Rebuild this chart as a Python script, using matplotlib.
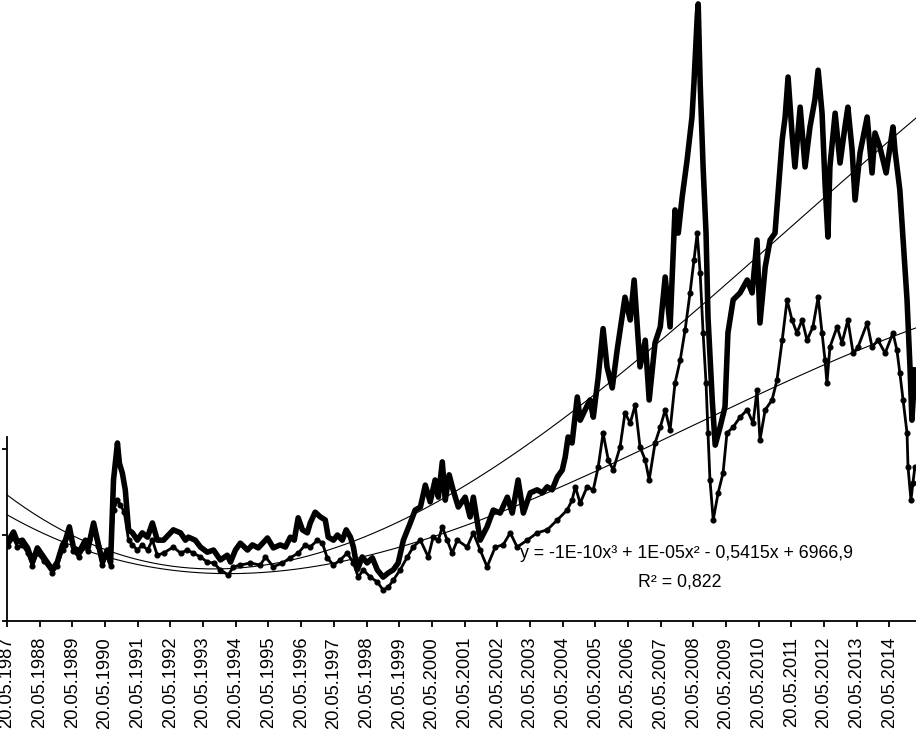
import numpy as np
import matplotlib
matplotlib.use("Agg")
import matplotlib.pyplot as plt

plt.rcParams["font.family"] = ["Liberation Sans", "DejaVu Sans"]

# Serie 1 (linha grossa): data em anos decimais, valor
anos_1 = [1987.40, 1987.58, 1987.70, 1987.85, 1988.01, 1988.16, 1988.31, 1988.50, 1988.77, 1988.92,
          1989.08, 1989.17, 1989.29, 1989.41, 1989.57, 1989.78, 1989.87, 1990.03, 1990.15, 1990.30,
          1990.45, 1990.55, 1990.64, 1990.76, 1990.82, 1990.91, 1991.00, 1991.10, 1991.22, 1991.37,
          1991.52, 1991.68, 1991.83, 1991.98, 1992.17, 1992.47, 1992.69, 1992.84, 1992.93, 1993.14,
          1993.30, 1993.51, 1993.70, 1993.91, 1994.12, 1994.22, 1994.37, 1994.52, 1994.74, 1994.89,
          1995.07, 1995.35, 1995.53, 1995.74, 1995.90, 1996.05, 1996.17, 1996.29, 1996.42, 1996.57,
          1996.66, 1996.81, 1996.97, 1997.12, 1997.21, 1997.37, 1997.49, 1997.64, 1997.76, 1997.89,
          1997.98, 1998.10, 1998.25, 1998.40, 1998.56, 1998.71, 1998.89, 1999.05, 1999.20, 1999.35,
          1999.51, 1999.72, 1999.87, 2000.03, 2000.18, 2000.33, 2000.48, 2000.58, 2000.70, 2000.79,
          2000.91, 2001.03, 2001.19, 2001.40, 2001.55, 2001.65, 2001.86, 2002.07, 2002.26, 2002.47,
          2002.69, 2002.84, 2003.02, 2003.18, 2003.39, 2003.60, 2003.76, 2003.91, 2004.06, 2004.22,
          2004.37, 2004.46, 2004.55, 2004.67, 2004.83, 2004.92, 2005.07, 2005.22, 2005.32, 2005.47,
          2005.62, 2005.74, 2005.90, 2006.05, 2006.29, 2006.45, 2006.57, 2006.75, 2006.91, 2007.03,
          2007.21, 2007.37, 2007.52, 2007.67, 2007.82, 2007.92, 2008.04, 2008.19, 2008.34, 2008.40,
          2008.50, 2008.53, 2008.59, 2008.68, 2008.77, 2008.83, 2008.96, 2009.05, 2009.20, 2009.35,
          2009.44, 2009.60, 2009.81, 2010.03, 2010.18, 2010.33, 2010.42, 2010.58, 2010.73, 2010.88,
          2011.10, 2011.19, 2011.28, 2011.40, 2011.49, 2011.65, 2011.80, 2011.95, 2012.10, 2012.20,
          2012.32, 2012.41, 2012.50, 2012.56, 2012.72, 2012.87, 2013.02, 2013.11, 2013.24, 2013.33,
          2013.48, 2013.70, 2013.85, 2013.94, 2014.09, 2014.28, 2014.49, 2014.55, 2014.70, 2014.80,
          2014.92, 2015.01, 2015.07, 2015.16]
valores_1 = [18.4, 20.7, 18.4, 18.8, 17.0, 13.7, 17.0, 14.9, 11.9, 13.7,
             17.7, 18.8, 21.9, 17.2, 15.8, 18.8, 17.2, 22.8, 18.8, 13.7,
             16.5, 13.5, 32.8, 41.4, 36.7, 34.4, 30.5, 21.2, 20.5, 18.8,
             20.5, 19.5, 22.8, 18.8, 18.8, 21.2, 20.5, 18.8, 19.5, 18.8,
             17.2, 16.0, 16.5, 14.2, 15.3, 13.7, 16.5, 18.1, 16.5, 17.7,
             17.0, 19.3, 17.0, 17.7, 17.2, 19.5, 18.8, 24.0, 21.2, 20.5,
             22.8, 25.3, 24.2, 23.5, 19.5, 18.8, 20.0, 18.8, 21.2, 19.5,
             17.2, 11.9, 14.9, 13.5, 14.7, 11.9, 10.2, 11.2, 11.9, 13.5,
             18.8, 22.8, 25.8, 26.5, 31.6, 27.7, 32.8, 28.8, 37.0, 28.1,
             34.0, 30.5, 26.5, 28.8, 24.2, 28.8, 18.8, 21.9, 25.8, 25.1,
             28.8, 25.1, 32.8, 25.1, 29.8, 30.5, 29.8, 31.2, 30.5, 33.5,
             35.1, 38.1, 42.8, 41.4, 52.1, 46.7, 49.1, 51.4, 47.4, 56.7,
             68.0, 59.1, 54.2, 63.0, 75.3, 70.0, 79.3, 59.1, 65.3, 51.4,
             64.7, 68.4, 80.0, 68.4, 95.6, 90.2, 98.6, 107.2, 117.2, 125.1,
             140.5, 143.5, 125.1, 105.6, 90.2, 70.7, 51.4, 40.9, 45.1, 49.8,
             67.0, 74.7, 76.3, 79.3, 76.3, 88.6, 69.3, 82.3, 88.6, 90.2,
             111.9, 117.2, 126.5, 113.5, 105.6, 119.5, 105.6, 114.9, 121.2, 128.1,
             118.1, 101.9, 89.3, 105.6, 118.1, 106.5, 114.9, 119.5, 109.5, 97.9,
             108.8, 117.2, 104.2, 113.5, 110.2, 104.2, 114.9, 109.5, 100.2, 88.6,
             74.7, 59.1, 46.7, 58.4]

# Serie 2 (pontos)
anos_2 = [1987.40, 1987.58, 1987.70, 1987.85, 1988.01, 1988.16, 1988.31, 1988.50, 1988.77, 1988.92,
          1989.08, 1989.17, 1989.29, 1989.41, 1989.57, 1989.78, 1989.87, 1990.03, 1990.15, 1990.30,
          1990.45, 1990.55, 1990.64, 1990.76, 1990.85, 1990.97, 1991.10, 1991.22, 1991.37, 1991.52,
          1991.68, 1991.83, 1991.98, 1992.17, 1992.47, 1992.69, 1992.90, 1993.08, 1993.30, 1993.51,
          1993.70, 1993.91, 1994.15, 1994.31, 1994.52, 1994.83, 1995.13, 1995.29, 1995.53, 1995.81,
          1996.05, 1996.29, 1996.51, 1996.66, 1996.88, 1997.03, 1997.18, 1997.37, 1997.58, 1997.79,
          1997.98, 1998.13, 1998.28, 1998.50, 1998.71, 1998.89, 1999.05, 1999.20, 1999.41, 1999.63,
          1999.81, 2000.03, 2000.27, 2000.42, 2000.58, 2000.70, 2000.85, 2001.00, 2001.16, 2001.46,
          2001.65, 2001.86, 2002.07, 2002.32, 2002.56, 2002.78, 2002.99, 2003.30, 2003.60, 2003.91,
          2004.22, 2004.52, 2004.67, 2004.77, 2004.92, 2005.13, 2005.32, 2005.47, 2005.62, 2005.78,
          2005.93, 2006.14, 2006.29, 2006.45, 2006.60, 2006.75, 2006.91, 2007.03, 2007.21, 2007.37,
          2007.52, 2007.67, 2007.82, 2007.98, 2008.13, 2008.28, 2008.40, 2008.50, 2008.59, 2008.68,
          2008.77, 2008.83, 2008.89, 2008.99, 2009.14, 2009.29, 2009.41, 2009.60, 2009.81, 2010.03,
          2010.21, 2010.33, 2010.42, 2010.58, 2010.79, 2010.94, 2011.10, 2011.25, 2011.40, 2011.55,
          2011.71, 2011.86, 2012.04, 2012.20, 2012.32, 2012.41, 2012.47, 2012.56, 2012.78, 2012.93,
          2013.11, 2013.27, 2013.42, 2013.70, 2013.85, 2014.03, 2014.25, 2014.49, 2014.61, 2014.70,
          2014.80, 2014.92, 2014.95, 2015.04, 2015.10, 2015.16]
valores_2 = [17.4, 19.3, 17.2, 17.7, 15.8, 12.8, 15.8, 14.0, 11.2, 12.8,
             16.5, 17.7, 20.5, 16.3, 14.9, 17.4, 16.3, 21.2, 17.4, 13.0,
             15.3, 12.8, 25.8, 28.1, 27.0, 25.3, 18.8, 17.7, 16.5, 17.7,
             16.5, 18.8, 15.3, 15.8, 17.2, 15.8, 16.5, 15.8, 14.9, 13.7,
             13.5, 11.9, 10.7, 12.6, 13.0, 13.5, 13.0, 14.9, 12.6, 13.5,
             14.7, 15.8, 17.7, 17.2, 18.8, 18.1, 14.7, 13.0, 14.2, 15.8,
             13.5, 10.2, 11.9, 10.2, 9.1, 7.2, 7.9, 9.5, 11.9, 14.9,
             17.2, 18.8, 14.9, 19.5, 18.8, 21.9, 18.8, 15.8, 18.8, 17.2,
             20.5, 16.5, 12.6, 17.2, 17.7, 20.5, 17.2, 18.8, 20.5, 21.2,
             23.5, 25.8, 28.1, 31.2, 27.4, 31.2, 30.5, 35.8, 43.7, 37.4,
             35.1, 40.5, 48.4, 46.0, 50.2, 40.5, 37.4, 32.8, 41.4, 45.1,
             49.1, 44.4, 55.3, 60.7, 67.7, 76.3, 84.0, 90.2, 80.9, 67.0,
             55.3, 43.7, 32.8, 23.5, 29.8, 34.4, 43.7, 45.1, 47.4, 49.1,
             46.0, 53.7, 42.1, 49.1, 51.4, 56.0, 65.3, 74.7, 70.0, 67.0,
             70.0, 65.3, 68.4, 75.3, 67.0, 60.7, 55.3, 63.7, 68.4, 64.7,
             70.0, 62.3, 63.7, 69.3, 63.7, 65.3, 62.3, 67.0, 63.0, 57.7,
             51.4, 43.7, 35.8, 28.1, 32.1, 35.8]

# pontos lidos das linhas de tendência (polinômio de grau 3) no gráfico
tend_anos_1 = [1987.40, 1989.02, 1990.55, 1993.30, 1994.83, 1996.36, 1997.98, 1999.81, 2001.46,
               2004.70, 2005.53, 2006.66, 2008.89, 2011.03, 2012.65, 2015.19]
tend_valores_1 = [29.1, 21.2, 15.6, 13.5, 13.3, 14.2, 18.4, 24.2, 31.2,
                  48.6, 53.7, 60.7, 75.3, 90.2, 100.2, 116.5]
tend_anos_2 = [1987.40, 1989.02, 1990.55, 1991.77, 1993.30, 1995.74, 1997.37, 2000.64, 2001.46,
               2005.53, 2008.80, 2012.47, 2015.19]
tend_valores_2 = [24.7, 18.4, 14.4, 12.8, 11.9, 11.4, 13.0, 20.5, 21.9,
                  35.8, 46.7, 60.0, 68.1]

anos_rotulos = list(range(1987, 2015))
texto_equacao = "y = -1E-10x³ + 1E-05x² - 0,5415x + 6966,9"
texto_r2 = "R² = 0,822"

# 20 de maio em fração de ano
pos_ticks = [a + 139 / 365 for a in anos_rotulos]
rotulos = [f"20.05.{a}" for a in anos_rotulos]

fig = plt.figure(figsize=(9.16, 7.30), dpi=100)
ax = fig.add_axes([7 / 916, 109 / 730, 909 / 916, 621 / 730])

ax.plot(anos_1, valores_1, color="black", lw=4.0, zorder=3)
ax.plot(anos_2, valores_2, color="black", lw=2.0, marker="o", ms=3.4, zorder=2)

# linhas de tendência
x_fino = np.linspace(pos_ticks[0], 2015.3, 400)
for anos, vals in [(tend_anos_1, tend_valores_1), (tend_anos_2, tend_valores_2)]:
    coef = np.polyfit(np.array(anos) - 2000, vals, 3)
    ax.plot(x_fino, np.polyval(coef, x_fino - 2000), color="black", lw=0.8, zorder=4)

ax.set_xlim(pos_ticks[0], pos_ticks[0] + (916 - 6.5) / 32.7)
ax.set_ylim(0, 621 / 4.3)

ax.set_xticks(pos_ticks)
ax.set_xticklabels(rotulos, rotation=90, fontsize=13.2)
ax.set_yticks([0, 20, 40])
ax.set_yticklabels([])

for s in ["top", "right"]:
    ax.spines[s].set_visible(False)
ax.spines["left"].set_bounds(0, (621 - 437) / 4.3)
ax.spines["left"].set_linewidth(1.3)
ax.spines["bottom"].set_linewidth(1.3)
ax.tick_params(axis="x", direction="out", length=4.5, width=1.3, pad=7)
ax.tick_params(axis="y", direction="out", length=3.5, width=1.3)

ax.text(0.748, 0.1095, texto_equacao, transform=ax.transAxes, ha="center", va="center",
        fontsize=12.8, zorder=5)
ax.text(0.740, 0.0628, texto_r2, transform=ax.transAxes, ha="center", va="center",
        fontsize=12.8, zorder=5)

fig.savefig("out.png", dpi=100)
